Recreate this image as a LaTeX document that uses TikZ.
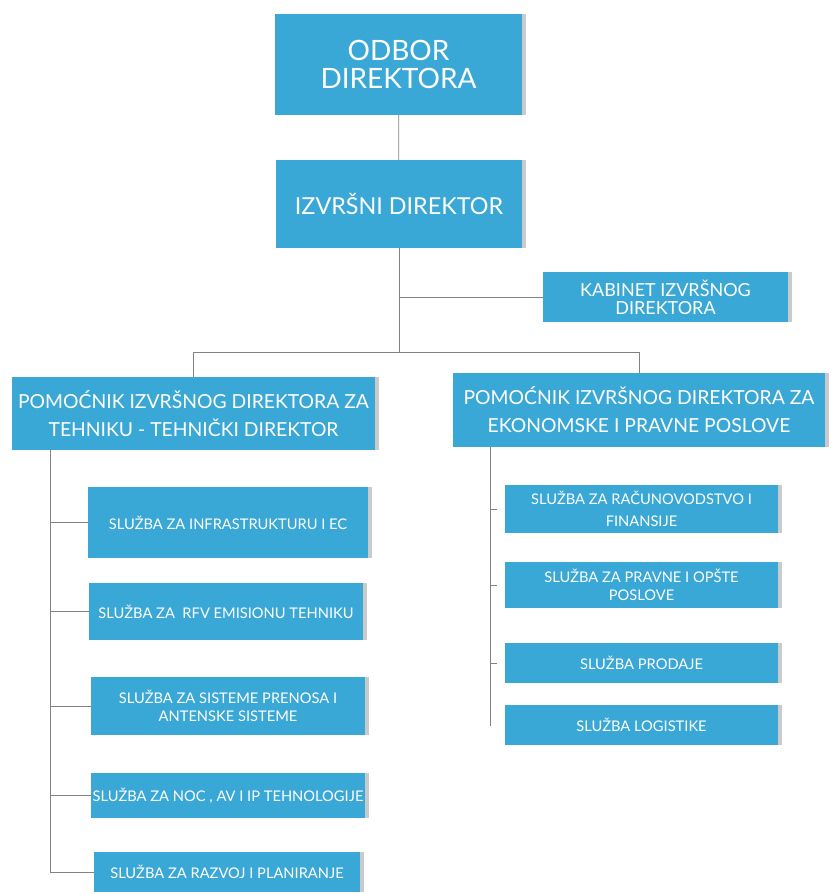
\documentclass[tikz,border=0pt]{standalone}
\usepackage{fontspec}
\setmainfont{Lato}
\usetikzlibrary{shadows}

\definecolor{boxblue}{RGB}{58,168,214}
\definecolor{linegray}{RGB}{130,130,130}

\begin{document}
\begin{tikzpicture} [x=0.75pt, y=-0.75pt,
  unit/.style = {draw=none, fill=boxblue, text=white, align=center,
    inner sep=0pt, outer sep=0pt,
    drop shadow={shadow xshift=3pt, shadow yshift=0pt, fill=gray!70, opacity=0.6}},
  service/.style = {unit, font=\fontsize{11}{13}\selectfont},
  link/.style = {draw=linegray, line width=0.6pt}]

\useasboundingbox (0,0) rectangle (833,894);

% uprava
\node (odbor) [unit, minimum width=185pt, minimum height=76pt,
  font=\fontsize{21}{21}\selectfont] at (398.5,64.5) {ODBOR\\DIREKTORA};
\node (izvrs) [unit, minimum width=185pt, minimum height=66pt,
  font=\fontsize{17.5}{20}\selectfont] at (399,204) {IZVRŠNI DIREKTOR};
\node (kabinet) [unit, minimum width=184pt, minimum height=37pt,
  font=\fontsize{13.5}{13.5}\selectfont] at (665.5,297) {KABINET IZVRŠNOG\\DIREKTORA};

% pomocnici
\node (teh) [unit, minimum width=272pt, minimum height=55pt,
  font=\fontsize{14.5}{21}\selectfont] at (193.5,413.5)
  {POMOĆNIK IZVRŠNOG DIREKTORA ZA\\TEHNIKU - TEHNIČKI DIREKTOR};
\node (eko) [unit, minimum width=279pt, minimum height=55pt,
  font=\fontsize{14.5}{21}\selectfont] at (639,410)
  {POMOĆNIK IZVRŠNOG DIREKTORA ZA\\EKONOMSKE I PRAVNE POSLOVE};

% tehnika
\node (s1) [service, minimum width=210pt, minimum height=53pt] at (228,522.5)
  {SLUŽBA ZA INFRASTRUKTURU I EC};
\node (s2) [service, minimum width=206pt, minimum height=43pt] at (226,611.5)
  {SLUŽBA ZA \ RFV EMISIONU TEHNIKU};
\node (s3) [service, minimum width=206pt, minimum height=44pt] at (228,706)
  {SLUŽBA ZA SISTEME PRENOSA I\\ANTENSKE SISTEME};
\node (s4) [service, minimum width=206pt, minimum height=34pt] at (228,795.5)
  {SLUŽBA ZA NOC , AV I IP TEHNOLOGIJE};
\node (s5) [service, minimum width=200pt, minimum height=30pt] at (227,872)
  {SLUŽBA ZA RAZVOJ I PLANIRANJE};

% ekonomija
\node (r1) [service, minimum width=205pt, minimum height=36pt,
  font=\fontsize{11}{17}\selectfont] at (641.5,509) {SLUŽBA ZA RAČUNOVODSTVO I\\FINANSIJE};
\node (r2) [service, minimum width=205pt, minimum height=35pt,
  font=\fontsize{11}{14}\selectfont] at (641.5,585) {SLUŽBA ZA PRAVNE I OPŠTE\\POSLOVE};
\node (r3) [service, minimum width=205pt, minimum height=30pt] at (641.5,663)
  {SLUŽBA PRODAJE};
\node (r4) [service, minimum width=205pt, minimum height=30pt] at (641.5,725)
  {SLUŽBA LOGISTIKE};

\coordinate (branch) at (399,352);

\draw [link] (odbor) -- (izvrs);
\draw [link] (izvrs.south) |- (kabinet.west);
\draw [link] (izvrs.south) -- (branch);
\draw [link] (branch) -| (teh.north);
\draw [link] (branch) -| (eko.north);

% tehnika
\draw [link] (teh.south west) ++(38,0) coordinate (tehspine) |- (s5.west);
\draw [link] (s1.west -| tehspine) -- (s1.west);
\draw [link] (s2.west -| tehspine) -- (s2.west);
\draw [link] (s3.west -| tehspine) -- (s3.west);
\draw [link] (s4.west -| tehspine) -- (s4.west);

% ekonomija
\draw [link] (eko.south west) ++(37,0) coordinate (ekospine) |- ([xshift=-11pt] r4.west);
\draw [link] (r1.west -| ekospine) -- ++(7,0);
\draw [link] (r2.west -| ekospine) -- ++(7,0);
\draw [link] (r3.west -| ekospine) -- ++(7,0);

\end{tikzpicture}
\end{document}
